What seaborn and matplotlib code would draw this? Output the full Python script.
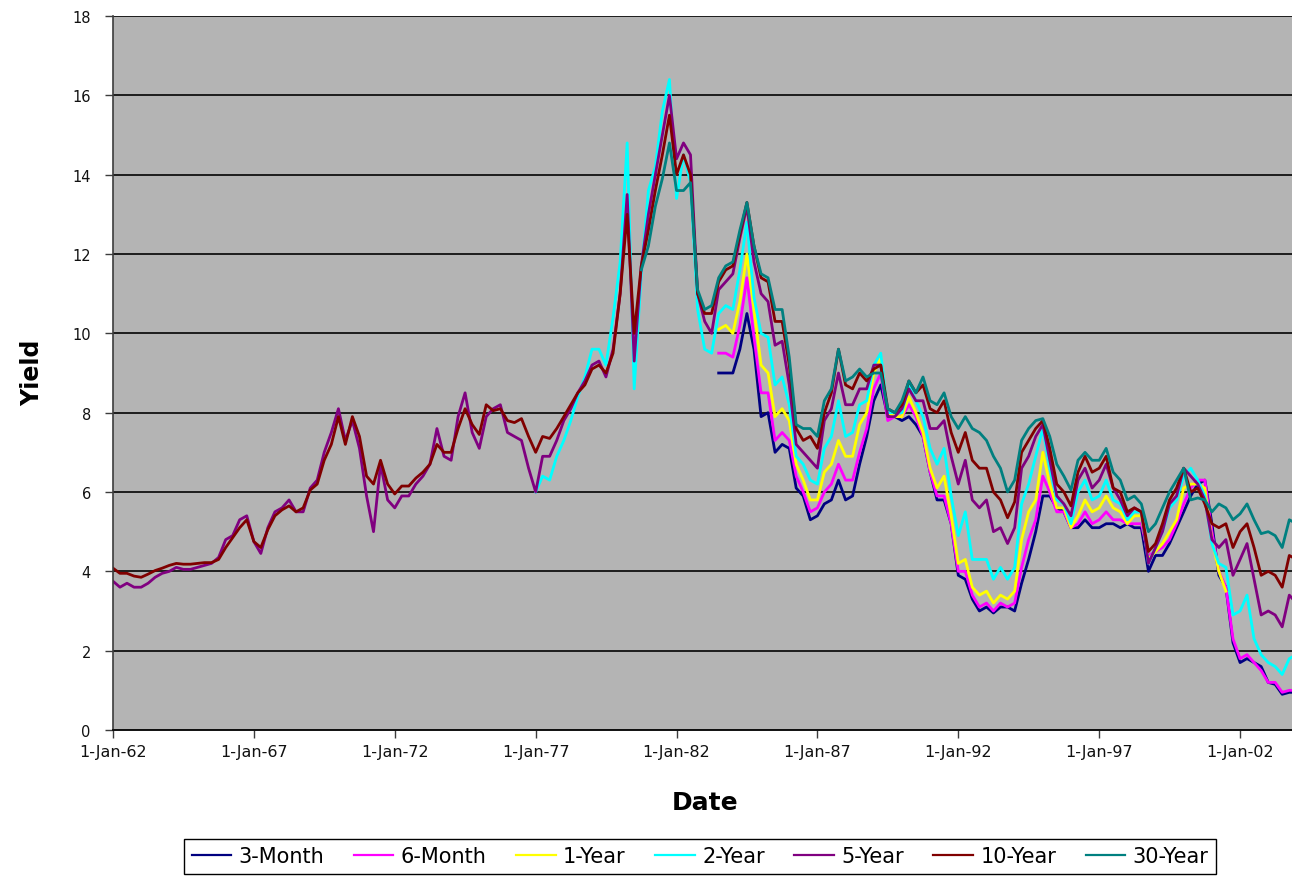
import numpy as np
import pandas as pd
import matplotlib
matplotlib.use("Agg")
import matplotlib.pyplot as plt
from matplotlib.lines import Line2D
from matplotlib.ticker import FixedLocator, FuncFormatter
import matplotlib.dates as mdates
import seaborn as sns

# Treasury constant-maturity yields (%), sampled at the start of each quarter
maturities = ["3-Month", "6-Month", "1-Year", "2-Year", "5-Year", "10-Year", "30-Year"]
colors = ["#000080", "#ff00ff", "#ffff00", "#00ffff", "#800080", "#800000", "#008080"]

start_3m = "1983-07-01"
yield_3m = [
    9.00, 9.00,
    9.00, 9.60, 10.5, 9.60,
    7.90, 8.00, 7.00, 7.20,
    7.10, 6.10, 5.90, 5.30,
    5.40, 5.70, 5.80, 6.30,
    5.80, 5.90, 6.70, 7.40,
    8.30, 8.70, 7.90, 7.90,
    7.80, 7.90, 7.70, 7.40,
    6.50, 5.80, 5.80, 5.20,
    3.90, 3.80, 3.30, 3.00,
    3.10, 2.95, 3.10, 3.10,
    3.00, 3.70, 4.30, 5.00,
    5.90, 5.90, 5.60, 5.50,
    5.10, 5.10, 5.30, 5.10,
    5.10, 5.20, 5.20, 5.10,
    5.20, 5.10, 5.10, 4.00,
    4.40, 4.40, 4.70, 5.10,
    5.50, 5.90, 6.20, 6.30,
    5.20, 3.90, 3.60, 2.20,
    1.70, 1.80, 1.70, 1.60,
    1.20, 1.15, 0.90, 0.95,
    0.95,
]

start_6m = "1983-07-01"
yield_6m = [
    9.50, 9.50,
    9.40, 10.2, 11.4, 9.90,
    8.50, 8.50, 7.30, 7.50,
    7.30, 6.40, 6.00, 5.50,
    5.60, 6.00, 6.20, 6.70,
    6.30, 6.30, 7.00, 7.60,
    8.60, 9.00, 7.80, 7.90,
    7.90, 8.20, 7.90, 7.40,
    6.50, 5.90, 5.90, 5.20,
    4.00, 4.00, 3.40, 3.10,
    3.20, 3.00, 3.20, 3.10,
    3.20, 4.10, 4.80, 5.30,
    6.40, 6.00, 5.50, 5.50,
    5.10, 5.20, 5.50, 5.20,
    5.30, 5.50, 5.30, 5.30,
    5.20, 5.20, 5.20, 4.40,
    4.50, 4.60, 4.80, 5.20,
    5.70, 6.10, 6.30, 6.30,
    5.00, 4.00, 3.60, 2.30,
    1.80, 1.90, 1.70, 1.50,
    1.20, 1.20, 0.95, 1.00,
    1.00,
]

start_1y = "1983-07-01"
yield_1y = [
    10.1, 10.2,
    10.0, 10.8, 12.0, 10.6,
    9.20, 9.00, 7.90, 8.10,
    7.80, 6.70, 6.30, 5.80,
    5.80, 6.50, 6.70, 7.30,
    6.90, 6.90, 7.70, 8.00,
    9.00, 9.40, 8.00, 7.90,
    7.90, 8.40, 8.00, 7.50,
    6.60, 6.10, 6.40, 5.40,
    4.20, 4.30, 3.60, 3.40,
    3.50, 3.20, 3.40, 3.30,
    3.50, 4.80, 5.50, 5.80,
    7.00, 6.20, 5.60, 5.60,
    5.10, 5.40, 5.80, 5.50,
    5.60, 5.90, 5.60, 5.50,
    5.20, 5.40, 5.40, 4.30,
    4.50, 4.70, 5.00, 5.30,
    6.10, 6.20, 6.20, 6.10,
    4.80, 4.00, 3.50,
]

start_2y = "1977-01-01"
yield_2y = [
    6.00, 6.40, 6.30, 6.90,
    7.30, 7.80, 8.40, 8.90,
    9.60, 9.60, 9.20, 10.4,
    11.8, 14.8, 8.60, 11.5,
    13.6, 14.2, 15.6, 16.4,
    13.4, 14.5, 13.8, 10.6,
    9.60, 9.50, 10.5, 10.7,
    10.6, 11.6, 12.8, 10.9,
    10.0, 9.90, 8.70, 8.90,
    8.20, 6.90, 6.70, 6.30,
    6.20, 7.10, 7.40, 8.30,
    7.40, 7.50, 8.20, 8.30,
    9.20, 9.50, 8.00, 8.00,
    8.00, 8.70, 8.30, 7.90,
    7.10, 6.70, 7.10, 5.90,
    4.90, 5.50, 4.30, 4.30,
    4.30, 3.80, 4.10, 3.80,
    4.10, 5.70, 6.20, 6.90,
    7.60, 6.60, 5.80, 5.70,
    5.20, 6.00, 6.30, 5.80,
    5.90, 6.30, 5.80, 5.70,
    5.30, 5.50, 5.50, 4.20,
    4.60, 5.00, 5.60, 5.80,
    6.40, 6.60, 6.30, 5.90,
    4.70, 4.20, 4.10, 2.90,
    3.00, 3.40, 2.30, 1.90,
    1.70, 1.60, 1.40, 1.80,
    1.90,
]

start_5y = "1962-01-01"
yield_5y = [
    3.75, 3.60, 3.70, 3.60,
    3.60, 3.70, 3.85, 3.95,
    4.00, 4.10, 4.05, 4.05,
    4.10, 4.15, 4.20, 4.35,
    4.80, 4.90, 5.30, 5.40,
    4.75, 4.45, 5.10, 5.50,
    5.60, 5.80, 5.50, 5.50,
    6.10, 6.30, 7.00, 7.50,
    8.10, 7.30, 7.80, 7.10,
    5.90, 5.00, 6.70, 5.80,
    5.60, 5.90, 5.90, 6.20,
    6.40, 6.70, 7.60, 6.90,
    6.80, 7.90, 8.50, 7.50,
    7.10, 7.90, 8.10, 8.20,
    7.50, 7.40, 7.30, 6.60,
    6.00, 6.90, 6.90, 7.30,
    7.80, 8.10, 8.50, 8.80,
    9.20, 9.30, 8.90, 9.60,
    11.0, 13.5, 9.30, 11.7,
    13.0, 14.0, 15.0, 16.0,
    14.4, 14.8, 14.5, 11.0,
    10.3, 10.0, 11.1, 11.3,
    11.5, 12.4, 13.2, 11.8,
    11.0, 10.8, 9.70, 9.80,
    8.70, 7.20, 7.00, 6.80,
    6.60, 7.80, 8.10, 9.00,
    8.20, 8.20, 8.60, 8.60,
    9.20, 9.20, 7.90, 7.90,
    8.10, 8.60, 8.30, 8.30,
    7.60, 7.60, 7.80, 6.90,
    6.20, 6.80, 5.80, 5.60,
    5.80, 5.00, 5.10, 4.70,
    5.10, 6.60, 6.90, 7.40,
    7.70, 6.80, 5.90, 5.70,
    5.40, 6.30, 6.60, 6.10,
    6.30, 6.70, 6.10, 5.80,
    5.40, 5.60, 5.50, 4.20,
    4.60, 5.00, 5.70, 5.90,
    6.60, 6.40, 6.20, 5.80,
    4.80, 4.60, 4.80, 3.90,
    4.30, 4.70, 3.80, 2.90,
    3.00, 2.90, 2.60, 3.40,
    3.20,
]

start_10y = "1962-01-01"
yield_10y = [
    4.08, 3.95, 3.95, 3.88,
    3.85, 3.93, 4.02, 4.08,
    4.15, 4.20, 4.18, 4.18,
    4.20, 4.22, 4.22, 4.30,
    4.60, 4.85, 5.10, 5.30,
    4.75, 4.60, 5.05, 5.40,
    5.55, 5.65, 5.50, 5.60,
    6.05, 6.20, 6.80, 7.20,
    7.90, 7.20, 7.90, 7.40,
    6.40, 6.20, 6.80, 6.20,
    5.95, 6.15, 6.15, 6.35,
    6.50, 6.70, 7.20, 7.00,
    7.00, 7.60, 8.10, 7.70,
    7.45, 8.20, 8.05, 8.10,
    7.80, 7.75, 7.85, 7.40,
    7.00, 7.40, 7.35, 7.60,
    7.90, 8.20, 8.50, 8.70,
    9.10, 9.20, 9.00, 9.50,
    11.0, 13.0, 10.0, 11.7,
    12.6, 13.6, 14.5, 15.5,
    14.0, 14.5, 14.0, 11.0,
    10.5, 10.5, 11.3, 11.6,
    11.7, 12.5, 13.3, 12.2,
    11.4, 11.3, 10.3, 10.3,
    9.20, 7.60, 7.30, 7.40,
    7.10, 8.00, 8.50, 9.60,
    8.70, 8.60, 9.00, 8.80,
    9.10, 9.20, 8.10, 8.00,
    8.20, 8.80, 8.50, 8.70,
    8.10, 8.00, 8.30, 7.50,
    7.00, 7.50, 6.80, 6.60,
    6.60, 6.00, 5.80, 5.35,
    5.75, 7.00, 7.30, 7.60,
    7.80, 7.10, 6.20, 6.00,
    5.65, 6.50, 6.90, 6.50,
    6.60, 6.90, 6.10, 6.00,
    5.50, 5.60, 5.50, 4.50,
    4.70, 5.20, 5.80, 6.10,
    6.60, 6.00, 6.10, 5.70,
    5.20, 5.10, 5.20, 4.60,
    5.00, 5.20, 4.60, 3.90,
    4.00, 3.90, 3.60, 4.40,
    4.30,
]

start_30y = "1980-10-01"
yield_30y = [
    11.6,
    12.2, 13.2, 13.9, 14.8,
    13.6, 13.6, 13.8, 11.1,
    10.6, 10.7, 11.4, 11.7,
    11.8, 12.6, 13.3, 12.2,
    11.5, 11.4, 10.6, 10.6,
    9.40, 7.70, 7.60, 7.60,
    7.40, 8.30, 8.60, 9.60,
    8.80, 8.90, 9.10, 8.90,
    9.00, 9.00, 8.10, 8.00,
    8.30, 8.80, 8.50, 8.90,
    8.30, 8.20, 8.50, 7.90,
    7.60, 7.90, 7.60, 7.50,
    7.30, 6.90, 6.60, 6.00,
    6.30, 7.30, 7.60, 7.80,
    7.85, 7.40, 6.70, 6.40,
    6.05, 6.80, 7.00, 6.80,
    6.80, 7.10, 6.50, 6.30,
    5.80, 5.90, 5.70, 5.00,
    5.20, 5.60, 6.00, 6.30,
    6.60, 5.80, 5.85, 5.80,
    5.50, 5.70, 5.60, 5.30,
    5.45, 5.70, 5.30, 4.95,
    5.00, 4.90, 4.60, 5.30,
    5.20,
]

tick_years = [1962, 1967, 1972, 1977, 1982, 1987, 1992, 1997, 2002]
y_ticks = [0, 2, 4, 6, 8, 10, 12, 14, 16, 18]

series = [
    ("3-Month", start_3m, yield_3m),
    ("6-Month", start_6m, yield_6m),
    ("1-Year", start_1y, yield_1y),
    ("2-Year", start_2y, yield_2y),
    ("5-Year", start_5y, yield_5y),
    ("10-Year", start_10y, yield_10y),
    ("30-Year", start_30y, yield_30y),
]

frames = []
for name, start, vals in series:
    d = pd.date_range(start, periods=len(vals), freq="QS")
    frames.append(pd.DataFrame({"Date": d, "Yield": vals, "Maturity": name}))
df = pd.concat(frames, ignore_index=True)

W, H = 1292, 878
fig = plt.figure(figsize=(W / 100, H / 100), dpi=100)
fig.patch.set_facecolor("white")
ax = fig.add_axes([113 / W, (H - 731) / H, (1292 - 113) / W, (731 - 17) / H])
ax.set_facecolor("#b4b4b4")

palette = dict(zip(maturities, colors))
sns.lineplot(data=df, x="Date", y="Yield", hue="Maturity", hue_order=maturities,
             palette=palette, linewidth=2.0, estimator=None, sort=True,
             legend=False, ax=ax)

ax.set_ylim(0, 18)
ax.set_xlim(pd.Timestamp("1962-01-01"), pd.Timestamp("2003-11-05"))
ax.yaxis.set_major_locator(FixedLocator(y_ticks))
ax.yaxis.set_major_formatter(FuncFormatter(lambda v, p: f"{int(v)}"))
tick_dates = [mdates.date2num(pd.Timestamp(f"{y}-01-01")) for y in tick_years]
ax.xaxis.set_major_locator(FixedLocator(tick_dates))
ax.xaxis.set_major_formatter(FuncFormatter(
    lambda v, p: (lambda d: f"{d.day}-{d:%b}-{d:%y}")(mdates.num2date(v))))

ax.yaxis.grid(True, color="#1c1c1c", linewidth=1.4)
ax.xaxis.grid(False)
ax.set_axisbelow(True)
for s in ("top", "right"):
    ax.spines[s].set_visible(False)
ax.spines["left"].set_color("#3c3c3c")
ax.spines["left"].set_linewidth(1.2)
ax.spines["bottom"].set_color("#101010")
ax.spines["bottom"].set_linewidth(1.4)

ax.tick_params(axis="y", direction="out", length=6, width=1, color="#3c3c3c",
               labelsize=10.5, pad=10, labelcolor="#111111")
ax.tick_params(axis="x", direction="out", length=6, width=1, color="#3c3c3c",
               labelsize=11.5, pad=4, labelcolor="#111111")

ax.set_xlabel("Date", fontsize=18, fontweight="bold")
ax.set_ylabel("Yield", fontsize=17, fontweight="bold")
ax.xaxis.set_label_coords((705 - 113) / 1179, (731 - 803) / 714)
ax.xaxis.label.set_va("center")
ax.yaxis.set_label_coords((32 - 113) / 1179, (731 - 373) / 714)
ax.yaxis.label.set_va("center")

handles = [Line2D([0], [0], color=c, lw=1.6) for c in colors]
leg = fig.legend(handles, maturities, loc="center", ncol=7,
                 bbox_to_anchor=(700 / W, 1 - 857.5 / H), fontsize=15,
                 frameon=True, fancybox=False, framealpha=1, edgecolor="black",
                 handlelength=1.9, handletextpad=0.35, columnspacing=1.42,
                 borderpad=0.35)
leg.get_frame().set_linewidth(1.0)

fig.savefig("out.png", dpi=100)
